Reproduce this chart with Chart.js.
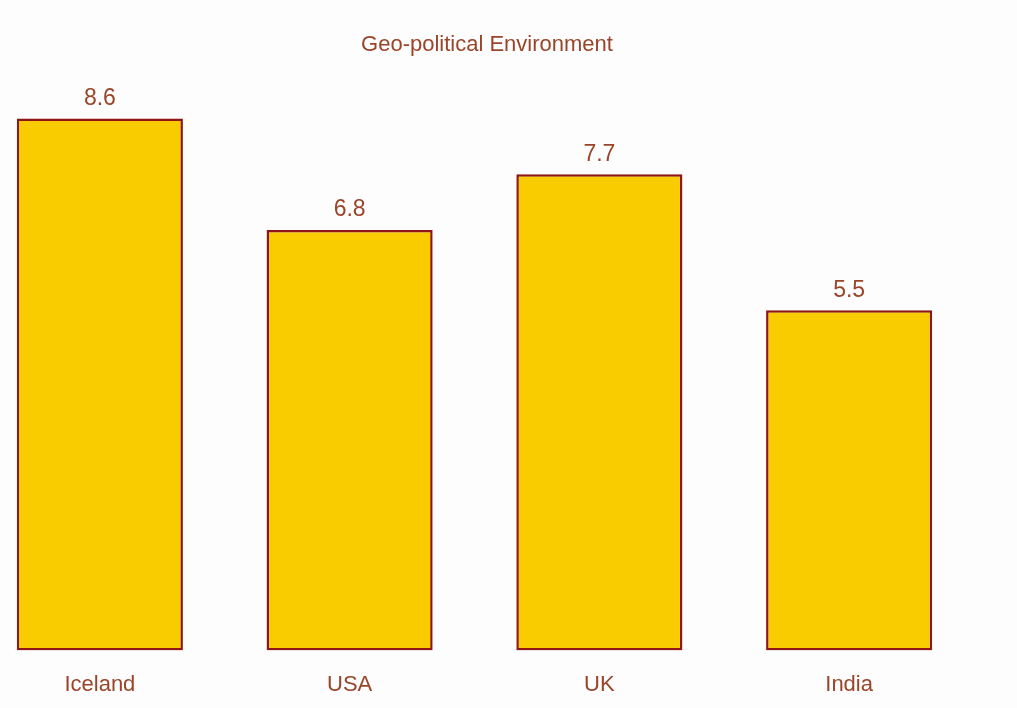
<!DOCTYPE html>
<html>
<head>
<meta charset="utf-8">
<script src="https://cdn.jsdelivr.net/npm/chart.js@4"></script>
<style>
    html, body { margin: 0; padding: 0; background: #fdfdfd; overflow: hidden; }
    #wrap { position: absolute; left: -25px; top: 0; width: 1024px; height: 719px; }
</style>
</head>
<body>
<div id="wrap"><canvas id="chart-geo"></canvas></div>
<script>
// scores per country
const countries = ["Iceland", "USA", "UK", "India"];
const scores = [8.6, 6.8, 7.7, 5.5];

const textColour = '#9a4529';
const fontName = '"Liberation Sans", Arial, sans-serif';

// writes each bar's value just above it
const valueLabels = {
    id: 'valueLabels',
    afterDatasetsDraw(chart) {
        let ctx = chart.ctx;
        let meta = chart.getDatasetMeta(0);
        ctx.save();
        ctx.font = '23px ' + fontName;
        ctx.fillStyle = textColour;
        ctx.textAlign = 'center';
        ctx.textBaseline = 'middle';
        meta.data.forEach((bar, i) => {
            ctx.fillText(chart.data.datasets[0].data[i].toFixed(1), bar.x, bar.y - 20);
        });
        ctx.restore();
    }
};

window.addEventListener('load', function(){
    let ctx = document.getElementById('chart-geo').getContext('2d');
    new Chart(ctx, {
        type: 'bar',
        data: {
            labels: countries,
            datasets: [{
                data: scores,
                backgroundColor: '#f9cc00',
                borderColor: '#8e1616',
                borderWidth: 2.5,
                borderSkipped: false,
                categoryPercentage: 1,
                barPercentage: 0.665
            }]
        },
        options: {
            responsive: true,
            maintainAspectRatio: false,
            animation: false,
            layout: { padding: 0 },
            plugins: {
                legend: { display: false },
                tooltip: { enabled: false },
                title: {
                    display: true,
                    text: 'Geo-political Environment',
                    color: textColour,
                    font: { family: fontName, size: 22, weight: 'normal' },
                    padding: { top: 32, bottom: 23 }
                }
            },
            scales: {
                x: {
                    grid: { display: false, drawTicks: false },
                    border: { display: false },
                    ticks: {
                        color: textColour,
                        padding: 21,
                        font: { family: fontName, size: 22 }
                    }
                },
                y: {
                    // empty strip on the right, keeps the title centred on the page
                    position: 'right',
                    min: 0,
                    max: 9.2,
                    grid: { display: false },
                    border: { display: false },
                    ticks: { display: false },
                    afterFit: (scale) => { scale.width = 25; }
                }
            }
        },
        plugins: [valueLabels]
    });
});
</script>
</body>
</html>
